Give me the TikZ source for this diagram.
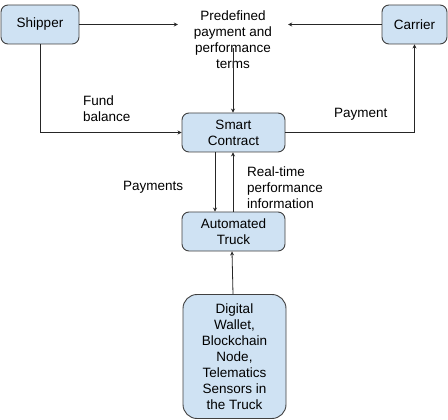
\documentclass[tikz,border=0pt]{standalone}
\usepackage{fontspec}
\setmainfont{Liberation Sans}
\usetikzlibrary{arrows.meta}
\definecolor{boxfill}{HTML}{CFE2F3}
\definecolor{boxline}{HTML}{404040}
\tikzset{
  box/.style={draw=boxline, fill=boxfill, line width=0.9pt, rounded corners=7pt, align=center, inner sep=0pt},
  lbl/.style={align=left, inner sep=0pt, anchor=west},
  conn/.style={draw=black!85, line width=0.8pt, -{Stealth[length=4pt,width=4pt]}},
  every node/.style={font=\fontsize{13.5}{16}\selectfont}
}
\begin{document}
\begin{tikzpicture}[x=1pt,y=-1pt]
\useasboundingbox (0,0) rectangle (448,420);
\node[box, minimum width=78pt, minimum height=39pt] (shipper) at (40,24.5) {Shipper};
\node[box, minimum width=65pt, minimum height=39pt] (carrier) at (414.5,24.5) {Carrier};
\node[align=center, inner sep=0pt, minimum width=110pt] (terms) at (233,40) {Predefined\\payment and\\performance\\terms};
\coordinate (termsout) at (233,48);
\node[box, minimum width=103pt, minimum height=39pt] (smart) at (233.5,132.5) {Smart\\Contract};
\node[box, minimum width=103pt, minimum height=39pt] (truck) at (233.5,231.5) {Automated\\Truck};
\node[box, rounded corners=14pt, minimum width=103pt, minimum height=124pt] (wallet) at (234.5,356.5) {Digital\\Wallet,\\Blockchain\\Node,\\Telematics\\Sensors in\\the Truck};
% labels
\node[lbl] (fund) at (83,109) {Fund\\balance};
\node[lbl] (pay) at (334,114) {Payment};
\node[lbl] (pays) at (123,187) {Payments};
\node[lbl] (rt) at (247,188) {Real-time\\performance\\information};
% connectors
\draw[conn] (shipper.east) -- (shipper.east -| terms.west);
\draw[conn] (carrier.west) -- (carrier.west -| terms.east);
\draw[conn] (termsout) -- (termsout |- smart.north);
\draw[conn] (shipper.south) |- (smart.west);
\draw[conn] (smart.east) -| (carrier.south);
\draw[conn] ([xshift=-18.5pt]smart.south) -- ([xshift=-18.5pt]truck.north);
\draw[conn] ([xshift=-0.5pt]truck.north) -- ([xshift=-0.5pt]smart.south);
\draw[conn] ([xshift=-1.5pt]wallet.north) -- ([xshift=-1.5pt]truck.south);
\end{tikzpicture}
\end{document}
